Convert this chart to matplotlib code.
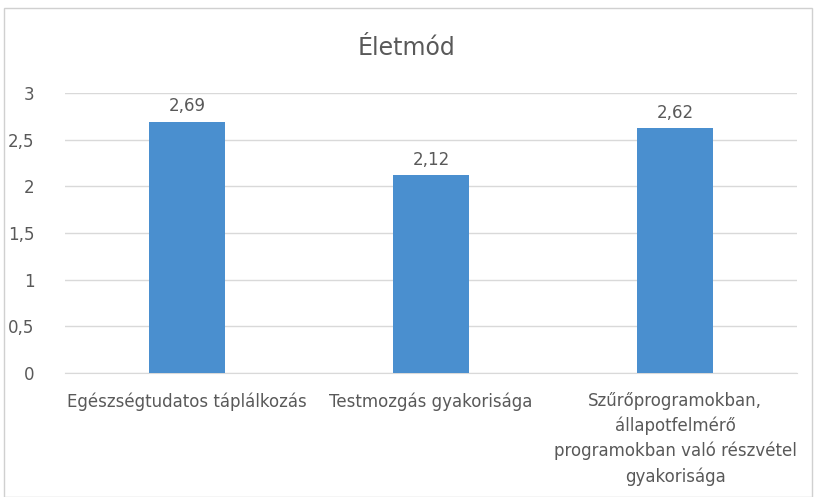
import matplotlib
matplotlib.use("Agg")
import matplotlib.pyplot as plt
from matplotlib.patches import Rectangle
from matplotlib.ticker import FuncFormatter

categories = ["Egészségtudatos táplálkozás", "Testmozgás gyakorisága",
              "Szűrőprogramokban,\nállapotfelmérő\nprogramokban való részvétel\ngyakorisága"]
values = [2.69, 2.12, 2.62]
yticks = [0, 0.5, 1, 1.5, 2, 2.5, 3]
title = "Életmód"

plt.rcParams['font.family'] = ['Liberation Sans Narrow', 'DejaVu Sans']
txt = "#595959"

fig = plt.figure(figsize=(8.14, 4.97), dpi=100)
fig.patches.append(Rectangle((4/814, 0.0), 808/814, 1 - 8/497, transform=fig.transFigure,
                             fill=False, edgecolor="#D0D0D0", linewidth=1.0))
ax = fig.add_axes([65/814, 1 - 373/497, (797 - 65)/814, (373 - 93)/497])

x = list(range(len(categories)))
bars = ax.bar(x, values, width=0.31, color="#4A8FCF", zorder=3)
for xi, v in zip(x, values):
    ax.text(xi, v + 0.07, f"{v:.2f}".replace(".", ","), ha="center", va="bottom",
            fontsize=12, color=txt)

ax.set_xlim(-0.5, len(categories) - 0.5)
ax.set_ylim(0, 3)
ax.set_yticks(yticks)
ax.yaxis.set_major_formatter(FuncFormatter(lambda v, p: f"{v:g}".replace(".", ",")))
ax.grid(axis="y", color="#D9D9D9", linewidth=1.0, zorder=0)
for s in ["top", "right", "left"]:
    ax.spines[s].set_visible(False)
ax.spines["bottom"].set_color("#D9D9D9")
ax.tick_params(axis="both", length=0, labelsize=12, labelcolor=txt)
ax.tick_params(axis="y", pad=22)
ax.tick_params(axis="x", pad=14)
ax.set_xticks(x)
ax.set_xticklabels(categories, linespacing=1.45)

fig.text(0.5, 1 - 48/497, title, ha="center", va="center", fontsize=17, color=txt)

fig.savefig("out.png", dpi=100)
